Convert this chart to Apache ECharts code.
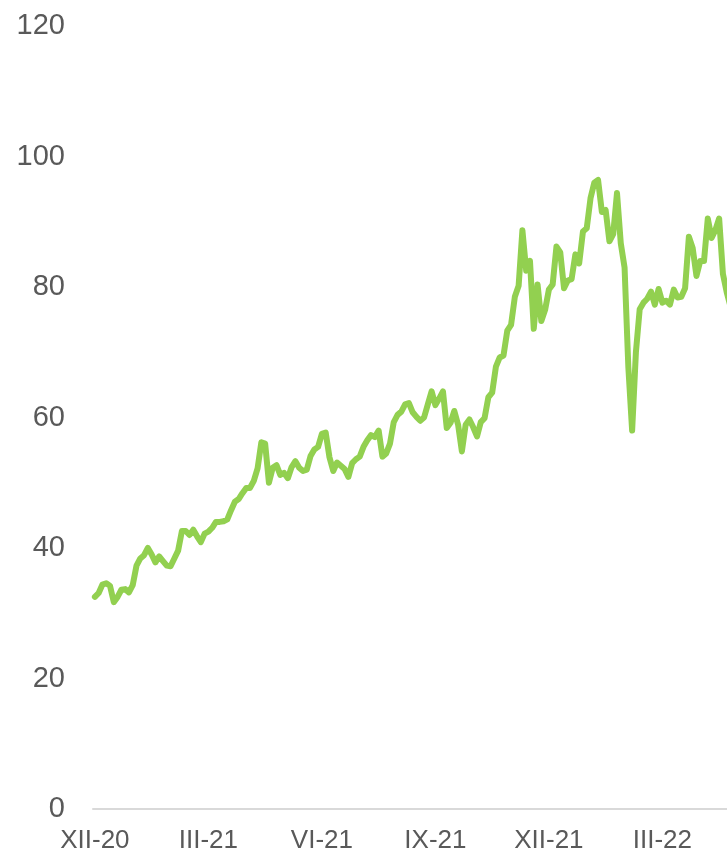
<!DOCTYPE html>
<html>
<head>
<meta charset="utf-8">
<script src="https://cdn.jsdelivr.net/npm/echarts@6/dist/echarts.min.js"></script>
<style>
html,body{margin:0;padding:0;background:#fff;}
#chart{width:727px;height:852px;}
</style>
</head>
<body>
<div id="chart"></div>
<script>
var xLabels = ['XII-20','III-21','VI-21','IX-21','XII-21','III-22'];
var pointsPerQuarter = 30;
var yTicks = {min: 0, max: 120, interval: 20};
var values = [
32.5,33.1,34.4,34.6,34.2,31.7,32.5,33.6,33.7,33.2,
34.3,37.3,38.4,38.9,40.0,39.0,37.8,38.7,38.0,37.3,
37.2,38.4,39.6,42.6,42.6,42.0,42.8,41.8,40.9,42.2,
42.5,43.1,44.0,44.0,44.1,44.4,45.8,47.1,47.5,48.4,
49.2,49.2,50.3,52.2,56.2,56.0,50.0,52.3,52.7,51.2,
51.5,50.7,52.4,53.3,52.3,51.8,52.0,54.1,55.1,55.5,
57.5,57.7,53.9,51.8,53.1,52.6,52.1,50.9,53.0,53.6,
54.0,55.5,56.5,57.3,57.0,58.0,54.0,54.5,56.0,59.3,
60.4,60.9,62.0,62.2,60.8,60.1,59.5,60.0,62.0,64.0,
61.9,62.9,64.0,58.4,59.2,61.0,58.9,54.8,58.9,59.7,
58.5,57.1,59.3,59.9,63.1,63.8,67.8,69.2,69.5,73.3,
74.2,78.5,80.2,88.7,82.5,84.0,73.6,80.4,74.8,76.5,
79.6,80.4,86.2,85.3,79.8,81.0,81.2,85.0,83.6,88.5,
89.0,93.6,96.0,96.4,91.5,91.8,87.0,88.1,94.4,86.7,
83.0,67.7,58.0,70.0,76.6,77.6,78.2,79.3,77.3,79.7,
77.6,77.9,77.3,79.6,78.4,78.5,79.8,87.7,86.0,81.7,
84.0,84.0,90.5,87.5,88.7,90.5,82.0,79.2,77.0
];

var totalCats = pointsPerQuarter * xLabels.length;
var categories = [];
for (var i = 0; i < totalCats; i++) {
  categories.push(i % pointsPerQuarter === 0 ? xLabels[i / pointsPerQuarter] : String(i));
}

var chart = echarts.init(document.getElementById('chart'), null, {renderer: 'canvas'});
chart.setOption({
  animation: false,
  backgroundColor: '#ffffff',
  grid: {left: 93, right: -47, top: 26, bottom: 43, outerBoundsMode: 'none', containLabel: false},
  xAxis: {
    type: 'category',
    data: categories,
    boundaryGap: true,
    axisLine: {show: true, lineStyle: {color: '#d9d9d9', width: 2}},
    axisTick: {show: false},
    splitLine: {show: false},
    axisLabel: {
      interval: pointsPerQuarter - 1,
      color: '#595959',
      fontSize: 26,
      fontFamily: 'Liberation Sans, Arial, sans-serif',
      margin: 19,
      formatter: function (v, idx) { return idx % pointsPerQuarter === 0 ? xLabels[idx / pointsPerQuarter] : ''; }
    }
  },
  yAxis: {
    type: 'value',
    min: yTicks.min,
    max: yTicks.max,
    interval: yTicks.interval,
    axisLine: {show: false},
    axisTick: {show: false},
    splitLine: {show: false},
    axisLabel: {
      color: '#595959',
      fontSize: 29,
      fontFamily: 'Liberation Sans, Arial, sans-serif',
      margin: 28
    }
  },
  series: [{
    type: 'line',
    data: values,
    symbol: 'none',
    showSymbol: false,
    clip: false,
    lineStyle: {color: '#92d050', width: 6, cap: 'round', join: 'round'},
    emphasis: {disabled: true}
  }]
});
</script>
</body>
</html>
